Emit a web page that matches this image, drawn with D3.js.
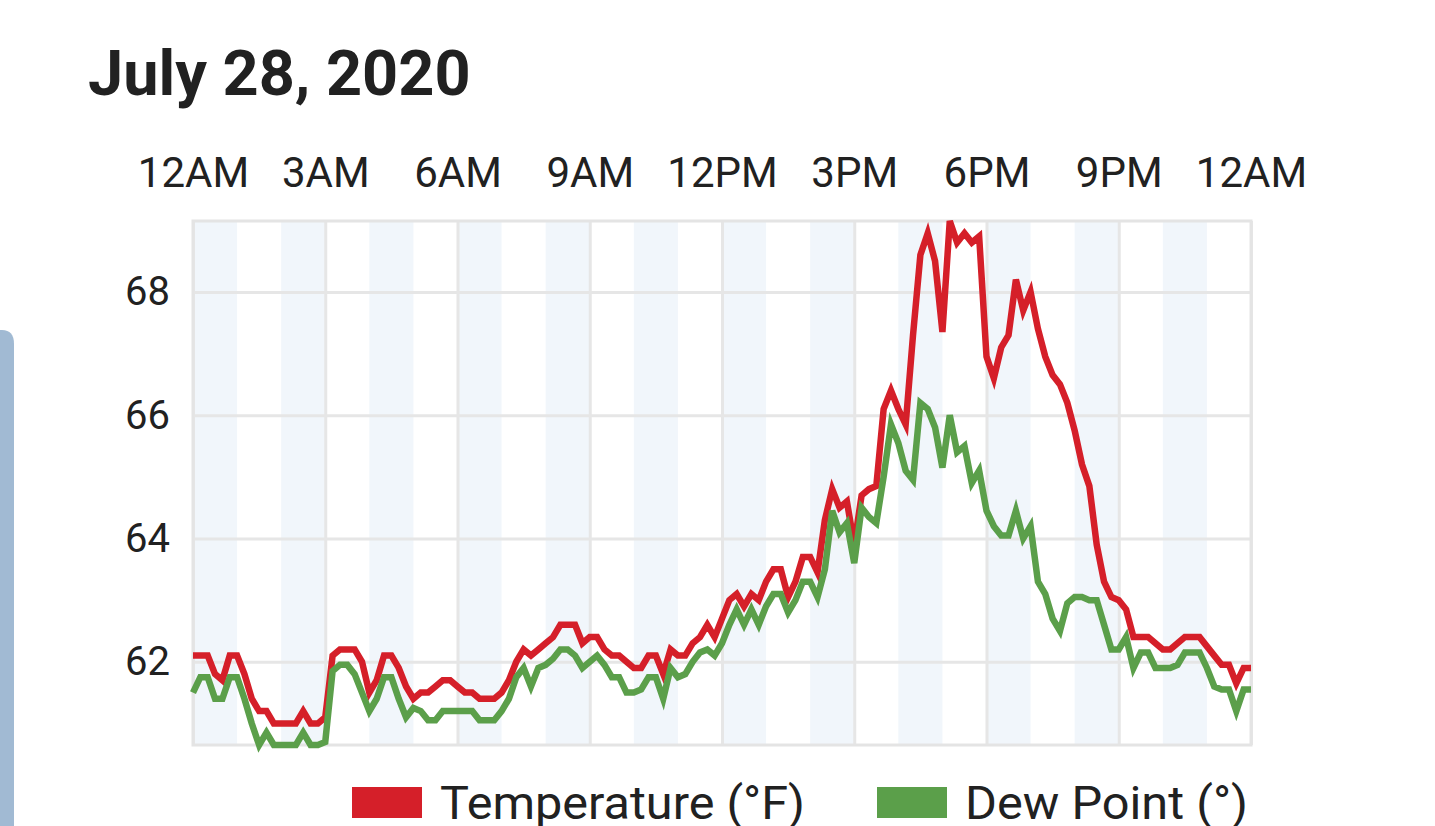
<!DOCTYPE html>
<html>
<head>
<meta charset="utf-8">
<script src="https://cdn.jsdelivr.net/npm/d3@7"></script>
<style>
  html, body { margin: 0; padding: 0; background: #ffffff; }
  body { width: 1435px; height: 826px; overflow: hidden; }
  text { font-family: Roboto, "Noto Sans", sans-serif; fill: #212121; }
</style>
</head>
<body>
<div id="chart"></div>
<script>
// readings every 10 minutes from midnight, July 28 2020
let dayStart = new Date(2020, 6, 28, 0, 0)
let sampleMinutes = 10

let temperature = [
  62.1, 62.1, 62.1, 61.8, 61.7, 62.1, 62.1, 61.8, 61.4, 61.2,
  61.2, 61.0, 61.0, 61.0, 61.0, 61.2, 61.0, 61.0, 61.1, 62.1,
  62.2, 62.2, 62.2, 62.0, 61.5, 61.7, 62.1, 62.1, 61.9, 61.6,
  61.4, 61.5, 61.5, 61.6, 61.7, 61.7, 61.6, 61.5, 61.5, 61.4,
  61.4, 61.4, 61.5, 61.7, 62.0, 62.2, 62.1, 62.2, 62.3, 62.4,
  62.6, 62.6, 62.6, 62.3, 62.4, 62.4, 62.2, 62.1, 62.1, 62.0,
  61.9, 61.9, 62.1, 62.1, 61.8, 62.2, 62.1, 62.1, 62.3, 62.4,
  62.6, 62.4, 62.7, 63.0, 63.1, 62.9, 63.1, 63.0, 63.3, 63.5,
  63.5, 63.05, 63.3, 63.7, 63.7, 63.45, 64.3, 64.8, 64.5, 64.6,
  63.9, 64.7, 64.8, 64.85, 66.1, 66.4, 66.1, 65.85, 67.3, 68.6,
  68.95, 68.5, 67.35, 69.15, 68.8, 68.95, 68.8, 68.9, 66.95, 66.6,
  67.1, 67.3, 68.2, 67.7, 68.0, 67.4, 66.95, 66.65, 66.5, 66.2,
  65.75, 65.2, 64.85, 63.9, 63.3, 63.05, 63.0, 62.85, 62.4, 62.4,
  62.4, 62.3, 62.2, 62.2, 62.3, 62.4, 62.4, 62.4, 62.25, 62.1,
  61.95, 61.95, 61.65, 61.9, 61.9
]

let dewPoint = [
  61.5, 61.75, 61.75, 61.4, 61.4, 61.75, 61.75, 61.4, 61.0, 60.65,
  60.85, 60.65, 60.65, 60.65, 60.65, 60.85, 60.65, 60.65, 60.7, 61.85,
  61.95, 61.95, 61.8, 61.5, 61.2, 61.4, 61.75, 61.75, 61.4, 61.1,
  61.25, 61.2, 61.05, 61.05, 61.2, 61.2, 61.2, 61.2, 61.2, 61.05,
  61.05, 61.05, 61.2, 61.4, 61.75, 61.9, 61.6, 61.9, 61.95, 62.05,
  62.2, 62.2, 62.1, 61.9, 62.0, 62.1, 61.95, 61.75, 61.75, 61.5,
  61.5, 61.55, 61.75, 61.75, 61.4, 61.9, 61.75, 61.8, 62.0, 62.15,
  62.2, 62.1, 62.3, 62.6, 62.85, 62.6, 62.85, 62.6, 62.9, 63.1,
  63.1, 62.8, 63.0, 63.3, 63.3, 63.05, 63.5, 64.45, 64.1, 64.25,
  63.6, 64.5, 64.35, 64.25, 65.0, 65.85, 65.55, 65.1, 64.95, 66.2,
  66.1, 65.8, 65.15, 66.0, 65.4, 65.5, 64.9, 65.1, 64.45, 64.2,
  64.05, 64.05, 64.45, 64.0, 64.2, 63.3, 63.1, 62.7, 62.5, 62.95,
  63.05, 63.05, 63.0, 63.0, 62.6, 62.2, 62.2, 62.4, 61.9, 62.15,
  62.15, 61.9, 61.9, 61.9, 61.95, 62.15, 62.15, 62.15, 61.9, 61.6,
  61.55, 61.55, 61.2, 61.55, 61.55
]

let yTicks = [62, 64, 66, 68]
let yDomain = [60.65, 69.15]
let seriesNames = ['Temperature (°F)', 'Dew Point (°)']
let seriesColors = ['#d51f29', '#5b9f4a']
let title = 'July 28, 2020'

function weatherChart() {
  let margin = { top: 221, left: 193, right: 184, bottom: 81 },
    width = 1435 - margin.left - margin.right,
    height = 826 - margin.top - margin.bottom

  function chart(selector) {
    let svg = d3.select(selector)
      .append('svg')
      .attr('width', 1435)
      .attr('height', 826)

    // strip on the left edge of the page
    svg.append('path')
      .attr('d', 'M0,330 L2,330 Q14,330 14,344 L14,826 L0,826 Z')
      .style('fill', '#a1bad3')

    svg.append('text')
      .attr('x', 88)
      .attr('y', 95)
      .style('font-size', '63px')
      .style('font-weight', 700)
      .text(title)

    let g = svg.append('g').attr('transform', 'translate(' + margin.left + ',' + margin.top + ')')

    let dayEnd = d3.timeDay.offset(dayStart, 1)
    let x = d3.scaleTime().domain([dayStart, dayEnd]).range([0, width])
    let y = d3.scaleLinear().domain(yDomain).range([height, 0])

    let rows = temperature.map(function(t, i) {
      return { time: d3.timeMinute.offset(dayStart, i * sampleMinutes), temp: t, dew: dewPoint[i] }
    })

    // shaded bands on every other hour
    let bandHours = d3.timeHour.every(2).range(dayStart, dayEnd)
    g.selectAll('.band')
      .data(bandHours)
      .enter().append('rect')
      .attr('class', 'band')
      .attr('x', function(d) { return x(d) })
      .attr('width', function(d) { return x(d3.timeHour.offset(d, 1)) - x(d) })
      .attr('y', 0)
      .attr('height', height)
      .style('fill', '#f1f6fb')

    // x axis on top
    let xAxis = g.append('g')
      .attr('class', 'axis axis--x')
      .call(d3.axisTop(x)
        .ticks(d3.timeHour.every(3))
        .tickSize(-height)
        .tickPadding(34)
        .tickFormat(d3.timeFormat('%-I%p')))
    xAxis.select('.domain').remove()
    xAxis.selectAll('line').style('stroke', '#e6e6e6').style('stroke-width', 3)
    xAxis.selectAll('text').style('font-size', '42px').style('fill', '#212121')

    // y axis
    let yAxis = g.append('g')
      .attr('class', 'axis axis--y')
      .call(d3.axisLeft(y)
        .tickValues(yTicks)
        .tickSize(-width)
        .tickPadding(23)
        .tickFormat(d3.format('d')))
    yAxis.select('.domain').remove()
    yAxis.selectAll('line').style('stroke', '#e6e6e6').style('stroke-width', 3)
    yAxis.selectAll('text').style('font-size', '40px').style('fill', '#212121')

    g.append('rect')
      .attr('width', width)
      .attr('height', height)
      .style('fill', 'none')
      .style('stroke', '#e4e4e4')
      .style('stroke-width', 3)

    let keys = ['temp', 'dew']
    keys.forEach(function(k, j) {
      let line = d3.line()
        .x(function(d) { return x(d.time) })
        .y(function(d) { return y(d[k]) })
      g.append('path')
        .datum(rows)
        .attr('d', line)
        .style('fill', 'none')
        .style('stroke', seriesColors[j])
        .style('stroke-width', 6.5)
        .style('stroke-linejoin', 'miter')
    })

    // legend (sits at the bottom edge, partly cut like the original)
    let legendX = [352, 877]
    let legendTextWidth = [365, 283]
    let legend = svg.selectAll('.legend')
      .data(seriesNames)
      .enter().append('g')
      .attr('class', 'legend')
      .attr('transform', function(d, i) { return 'translate(' + legendX[i] + ',787)' })

    legend.append('rect')
      .attr('width', 70)
      .attr('height', 31)
      .style('fill', function(d, i) { return seriesColors[i] })

    legend.append('text')
      .attr('x', 88)
      .attr('y', 32)
      .attr('textLength', function(d, i) { return legendTextWidth[i] })
      .attr('lengthAdjust', 'spacingAndGlyphs')
      .style('font-size', '46px')
      .text(function(d) { return d })

    return chart
  }

  return chart
}

weatherChart()('#chart')
</script>
</body>
</html>
